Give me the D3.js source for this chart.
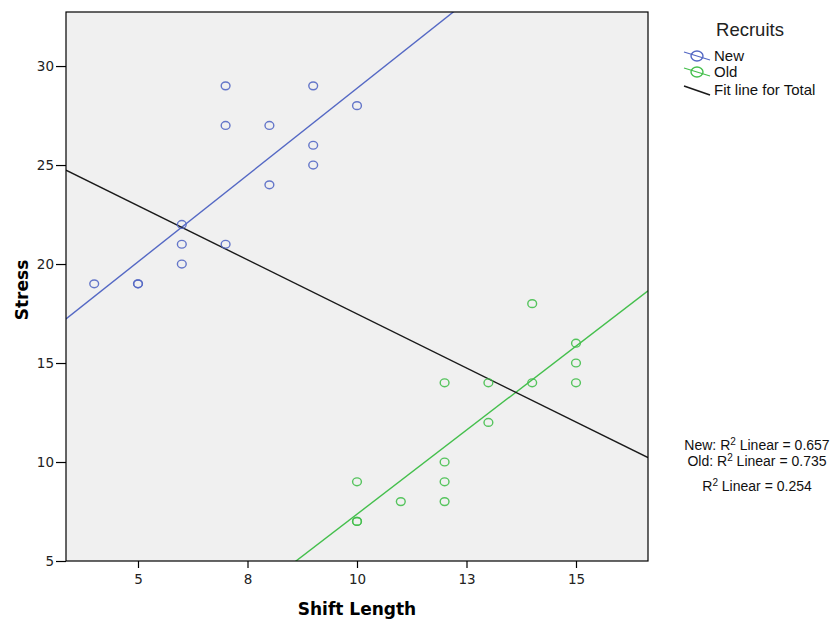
<!DOCTYPE html>
<html>
<head>
<meta charset="utf-8">
<script src="https://cdn.jsdelivr.net/npm/d3@7"></script>
<style>
  body { margin: 0; background: #fff; }
</style>
</head>
<body>
<svg id="chart"></svg>
<script>
// New recruits: [shift length, stress]
const newRecruits = [
    [4, 19], [5, 19], [5, 19], [6, 22], [6, 21], [6, 20],
    [7, 29], [7, 27], [7, 21], [8, 27], [8, 24],
    [9, 29], [9, 26], [9, 25], [10, 28]
];
// Old recruits
const oldRecruits = [
    [10, 9], [10, 7], [10, 7], [11, 8],
    [12, 14], [12, 10], [12, 9], [12, 8],
    [13, 14], [13, 12], [14, 18], [14, 14],
    [15, 16], [15, 15], [15, 14]
];
const xTicks = [5, 7.5, 10, 12.5, 15];
const xTickLabels = ["5", "8", "10", "13", "15"];
const yTicks = [5, 10, 15, 20, 25, 30];

const width = 840, height = 620;
const margin = { top: 12, right: 192, bottom: 59, left: 66 };
const innerW = width - margin.left - margin.right;
const innerH = height - margin.top - margin.bottom;

const svg = d3.select("#chart")
    .attr("width", width)
    .attr("height", height)
    .attr("font-family", "'Liberation Sans', Arial, sans-serif");

const g = svg.append("g")
    .attr("transform", `translate(${margin.left},${margin.top})`);

const x = d3.scaleLinear().domain([3.356, 16.644]).range([0, innerW]);
const y = d3.scaleLinear().domain([5, 32.73]).range([innerH, 0]);

const color = d3.scaleOrdinal()
    .domain(["New", "Old", "Total"])
    .range(["#5468c4", "#44bf4c", "#1a1a1a"]);

// least squares fit
function fit(pts) {
    const mx = d3.mean(pts, d => d[0]), my = d3.mean(pts, d => d[1]);
    const sxy = d3.sum(pts, d => (d[0] - mx) * (d[1] - my));
    const sxx = d3.sum(pts, d => (d[0] - mx) ** 2);
    const syy = d3.sum(pts, d => (d[1] - my) ** 2);
    const slope = sxy / sxx;
    return { slope, intercept: my - slope * mx, r2: sxy * sxy / (sxx * syy) };
}

// background
g.append("rect")
    .attr("width", innerW)
    .attr("height", innerH)
    .attr("fill", "#f0f0f0");

g.append("clipPath").attr("id", "clip")
    .append("rect").attr("width", innerW).attr("height", innerH);

const plot = g.append("g").attr("clip-path", "url(#clip)");

const groups = [
    { name: "New", pts: newRecruits },
    { name: "Old", pts: oldRecruits },
    { name: "Total", pts: newRecruits.concat(oldRecruits) }
];
groups.forEach(gr => gr.fit = fit(gr.pts));

// fit lines
const xd = x.domain();
groups.forEach(gr => {
    plot.append("line")
        .attr("x1", x(xd[0]))
        .attr("y1", y(gr.fit.intercept + gr.fit.slope * xd[0]))
        .attr("x2", x(xd[1]))
        .attr("y2", y(gr.fit.intercept + gr.fit.slope * xd[1]))
        .attr("stroke", color(gr.name))
        .attr("stroke-width", 1.4);
});

// points
groups.slice(0, 2).forEach(gr => {
    plot.selectAll(`.dot-${gr.name}`)
        .data(gr.pts)
        .enter().append("ellipse")
        .attr("class", `dot-${gr.name}`)
        .attr("cx", d => x(d[0]))
        .attr("cy", d => y(d[1]))
        .attr("rx", 4.4)
        .attr("ry", 3.9)
        .attr("fill", "none")
        .attr("stroke", color(gr.name))
        .attr("stroke-width", 1.4)
        .attr("stroke-opacity", 0.9);
});

// frame
g.append("rect")
    .attr("width", innerW)
    .attr("height", innerH)
    .attr("fill", "none")
    .attr("stroke", "#000")
    .attr("stroke-width", 1.2);

// axes
const xAxis = g.append("g")
    .attr("transform", `translate(0,${innerH})`)
    .call(d3.axisBottom(x).tickValues(xTicks)
        .tickFormat((d, i) => xTickLabels[i]).tickSize(7).tickPadding(6));
xAxis.select(".domain").remove();
xAxis.selectAll("line").attr("stroke", "#000").attr("stroke-width", 1.2);
xAxis.selectAll("text").attr("font-size", "13.5px").attr("fill", "#222")
    .attr("font-family", "'DejaVu Sans', sans-serif");

const yAxis = g.append("g")
    .call(d3.axisLeft(y).tickValues(yTicks).tickSize(10).tickPadding(2));
yAxis.select(".domain").remove();
yAxis.selectAll("line").attr("stroke", "#000").attr("stroke-width", 1.2);
yAxis.selectAll("text").attr("font-size", "13.5px").attr("fill", "#222")
    .attr("font-family", "'DejaVu Sans', sans-serif");

// axis titles
svg.append("text")
    .attr("x", margin.left + x(10))
    .attr("y", 615)
    .attr("text-anchor", "middle")
    .attr("font-size", "17px")
    .attr("font-weight", "bold")
    .attr("font-family", "'DejaVu Sans', sans-serif")
    .text("Shift Length");

svg.append("text")
    .attr("transform", "rotate(-90)")
    .attr("x", -290)
    .attr("y", 28)
    .attr("text-anchor", "middle")
    .attr("font-size", "17px")
    .attr("font-weight", "bold")
    .attr("font-family", "'DejaVu Sans', sans-serif")
    .text("Stress");

// legend
const legend = svg.append("g").attr("transform", "translate(684,0)");
legend.append("text")
    .attr("x", 66)
    .attr("y", 36)
    .attr("text-anchor", "middle")
    .attr("font-size", "18.5px")
    .attr("fill", "#222")
    .text("Recruits");

const legendItems = [
    { name: "New", label: "New", y: 56, marker: true },
    { name: "Old", label: "Old", y: 72, marker: true },
    { name: "Total", label: "Fit line for Total", y: 90, marker: false }
];
legendItems.forEach(it => {
    const li = legend.append("g").attr("transform", `translate(0,${it.y})`);
    if (it.marker) {
        li.append("line")
            .attr("x1", 0).attr("y1", -4).attr("x2", 26).attr("y2", 4)
            .attr("stroke", color(it.name)).attr("stroke-width", 1.3);
        li.append("ellipse")
            .attr("cx", 13).attr("cy", 0).attr("rx", 6).attr("ry", 5)
            .attr("fill", "none")
            .attr("stroke", color(it.name)).attr("stroke-width", 1.4);
    } else {
        li.append("line")
            .attr("x1", 0).attr("y1", -4).attr("x2", 26).attr("y2", 5)
            .attr("stroke", color(it.name)).attr("stroke-width", 1.6);
    }
    li.append("text")
        .attr("x", 30)
        .attr("y", 5)
        .attr("font-size", "15px")
        .attr("fill", "#111")
        .text(it.label);
});

// R² annotations
const r2 = svg.append("g").attr("font-size", "14px").attr("fill", "#111")
    .attr("text-anchor", "middle");
const r2Rows = [
    { prefix: "New: ", r: groups[0].fit.r2, y: 450 },
    { prefix: "Old: ", r: groups[1].fit.r2, y: 466 },
    { prefix: "", r: groups[2].fit.r2, y: 491 }
];
r2Rows.forEach(row => {
    const t = r2.append("text").attr("x", 757).attr("y", row.y);
    t.append("tspan").text(row.prefix + "R");
    t.append("tspan").attr("dy", -5).attr("font-size", "10px").text("2");
    t.append("tspan").attr("dy", 5).text(" Linear = " + d3.format(".3f")(row.r));
});
</script>
</body>
</html>
